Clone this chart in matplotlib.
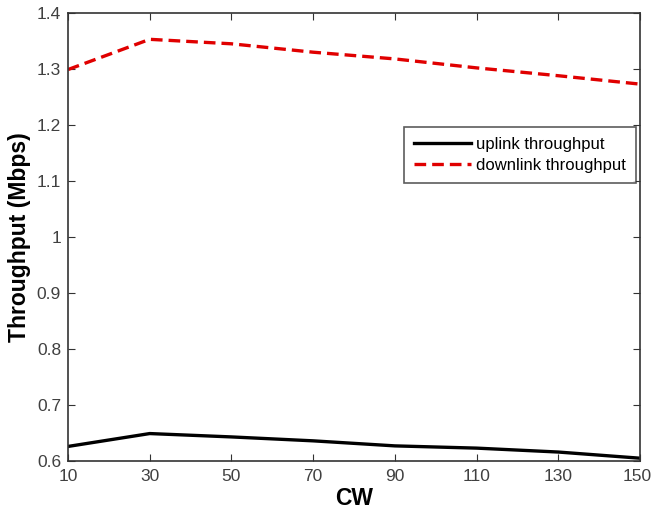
import matplotlib
matplotlib.use("Agg")
import matplotlib.pyplot as plt
import matplotlib.transforms as mtransforms

plt.rcParams['font.family'] = ['Liberation Sans', 'DejaVu Sans']

cw = [10, 30, 50, 70, 90, 110, 130, 150]
uplink = [0.626, 0.649, 0.643, 0.636, 0.627, 0.623, 0.616, 0.605]
downlink = [1.299, 1.353, 1.345, 1.330, 1.318, 1.302, 1.288, 1.273]
xticks = [10, 30, 50, 70, 90, 110, 130, 150]
xtick_labels = ['10', '30', '50', '70', '90', '110', '130', '150']
yticks = [0.6, 0.7, 0.8, 0.9, 1.0, 1.1, 1.2, 1.3, 1.4]
ytick_labels = ['0.6', '0.7', '0.8', '0.9', '1', '1.1', '1.2', '1.3', '1.4']

fig = plt.figure(figsize=(6.52, 5.15), dpi=100)
ax = fig.add_axes([68/652, 1 - 461/515, 572/652, 448/515])
ax.plot(cw, uplink, color='black', linewidth=2.4, label='uplink throughput')
ax.plot(cw, downlink, color='#e00000', linewidth=2.4, linestyle=(0, (3.5, 1.8)), label='downlink throughput')
ax.set_xlim(10, 150)
ax.set_ylim(0.6, 1.4)
ax.set_xticks(xticks)
ax.set_xticklabels(xtick_labels)
ax.set_yticks(yticks)
ax.set_yticklabels(ytick_labels)
for s in ax.spines.values():
    s.set_color('#333333')
    s.set_linewidth(1.2)
ax.tick_params(direction='in', top=True, right=True, labelsize=12.5, length=5,
               colors='#333333', labelcolor='#404040')
ax.tick_params(axis='x', pad=6)
ax.tick_params(axis='y', pad=5)
last = ax.get_xticklabels()[-1]
last.set_transform(last.get_transform() + mtransforms.ScaledTranslation(-3/100, 0, fig.dpi_scale_trans))
ax.set_xlabel('CW', fontsize=16.5, fontweight='bold', labelpad=2)
ax.set_ylabel('Throughput (Mbps)', fontsize=16.5, fontweight='bold', labelpad=4)
leg = ax.legend(loc='upper right', bbox_to_anchor=(0.993, 0.745), fontsize=12,
                frameon=True, fancybox=False, edgecolor='#333333', handlelength=3.4,
                handletextpad=0.3, borderaxespad=0, borderpad=0.6, labelspacing=0.35)
leg.get_frame().set_linewidth(1.2)
fig.savefig('out.png', dpi=100)
